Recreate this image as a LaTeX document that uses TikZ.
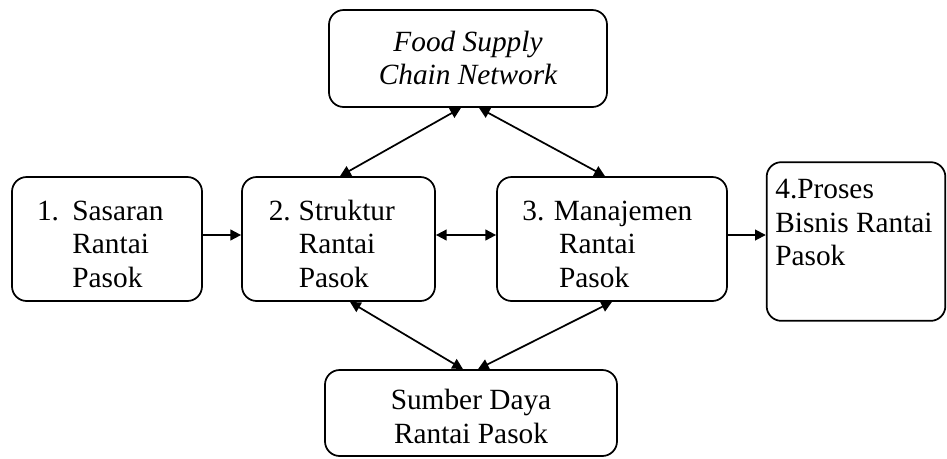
\documentclass[tikz,border=0pt]{standalone}
\usepackage{fontspec}
\setmainfont{Liberation Serif}
\usetikzlibrary{shapes,arrows.meta,calc,positioning}

\begin{document}
\begin{tikzpicture}[x=0.75pt,y=-0.75pt,
		arrow/.style = {line width=1.3pt,-{Triangle[length=8pt,width=8pt]}},
		twoway/.style = {line width=1.3pt,{Triangle[length=8pt,width=8pt]}-{Triangle[length=8pt,width=8pt]}}]
		\tikzset{box/.style={draw=black,rectangle,rounded corners=11pt,line width=1.3pt,inner sep=0pt,align=center,font=\fontsize{22}{25}\selectfont}}

		\useasboundingbox (0,0) rectangle (947,458);

		% Network
		\node[box, minimum width=208.5pt, minimum height=72.75pt] (network) at (468,58.5) {\raisebox{-2pt}[\height][\depth]{\itshape\begin{tabular}{@{}c@{}}Food Supply\\ Chain Network\end{tabular}}};

		% Steps
		\node[box, minimum width=142.5pt, minimum height=93pt] (sasaran) at (107,239) {\raisebox{-6pt}[\height][\depth]{\begin{tabular}{@{}l@{\hspace{10pt}}l@{\hspace{10pt}}}1. & Sasaran\\ & Rantai\\ & Pasok\end{tabular}}};

		\node[box, minimum width=144.75pt, minimum height=93pt] (struktur) at (338.5,239) {\raisebox{-6pt}[\height][\depth]{\begin{tabular}{@{}l@{\hspace{6pt}}l@{\hspace{10pt}}}2. & Struktur\\ & Rantai\\ & Pasok\end{tabular}}};

		\node[box, minimum width=172.5pt, minimum height=93pt] (manajemen) at (612,239) {\raisebox{-6pt}[\height][\depth]{\begin{tabular}{@{}l@{\hspace{7pt}}l@{\hspace{7pt}}}3. & Manajemen\\ & \hspace{4pt}Rantai\\ & \hspace{4pt}Pasok\end{tabular}}};

		\node[box, inner xsep=6.5pt] (proses) at (856,241.5) {\parbox[c][119pt][t]{121pt}{\vspace*{13pt}\raggedright 4.Proses\\ Bisnis Rantai\\ Pasok}};

		% Resources
		\node[box, minimum width=219pt, minimum height=64.5pt] (sumber) at (471,413) {\raisebox{-5pt}[\height][\depth]{\begin{tabular}{@{}c@{}}Sumber Daya\\ Rantai Pasok\end{tabular}}};

		% Arrows
		\draw [arrow] ($(sasaran.east)+(0,-4)$) -- ($(struktur.west)+(0,-4)$);
		\draw [twoway] ($(struktur.east)+(0,-4)$) -- ($(manajemen.west)+(0,-4)$);
		\draw [arrow] ($(manajemen.east)+(0,-4)$) -- ($(proses.west)+(0,-6.5)$);

		\draw [twoway] ($(network.south)+(-7,0)$) -- ($(struktur.north)+(1.5,0)$);
		\draw [twoway] ($(network.south)+(11,0)$) -- ($(manajemen.north)+(-7,0)$);

		\draw [twoway] ($(sumber.north)+(-8,0)$) -- ($(struktur.south)+(11.5,0)$);
		\draw [twoway] ($(sumber.north)+(7,0)$) -- ($(manajemen.south)+(0,0)$);

	\end{tikzpicture}
\end{document}
